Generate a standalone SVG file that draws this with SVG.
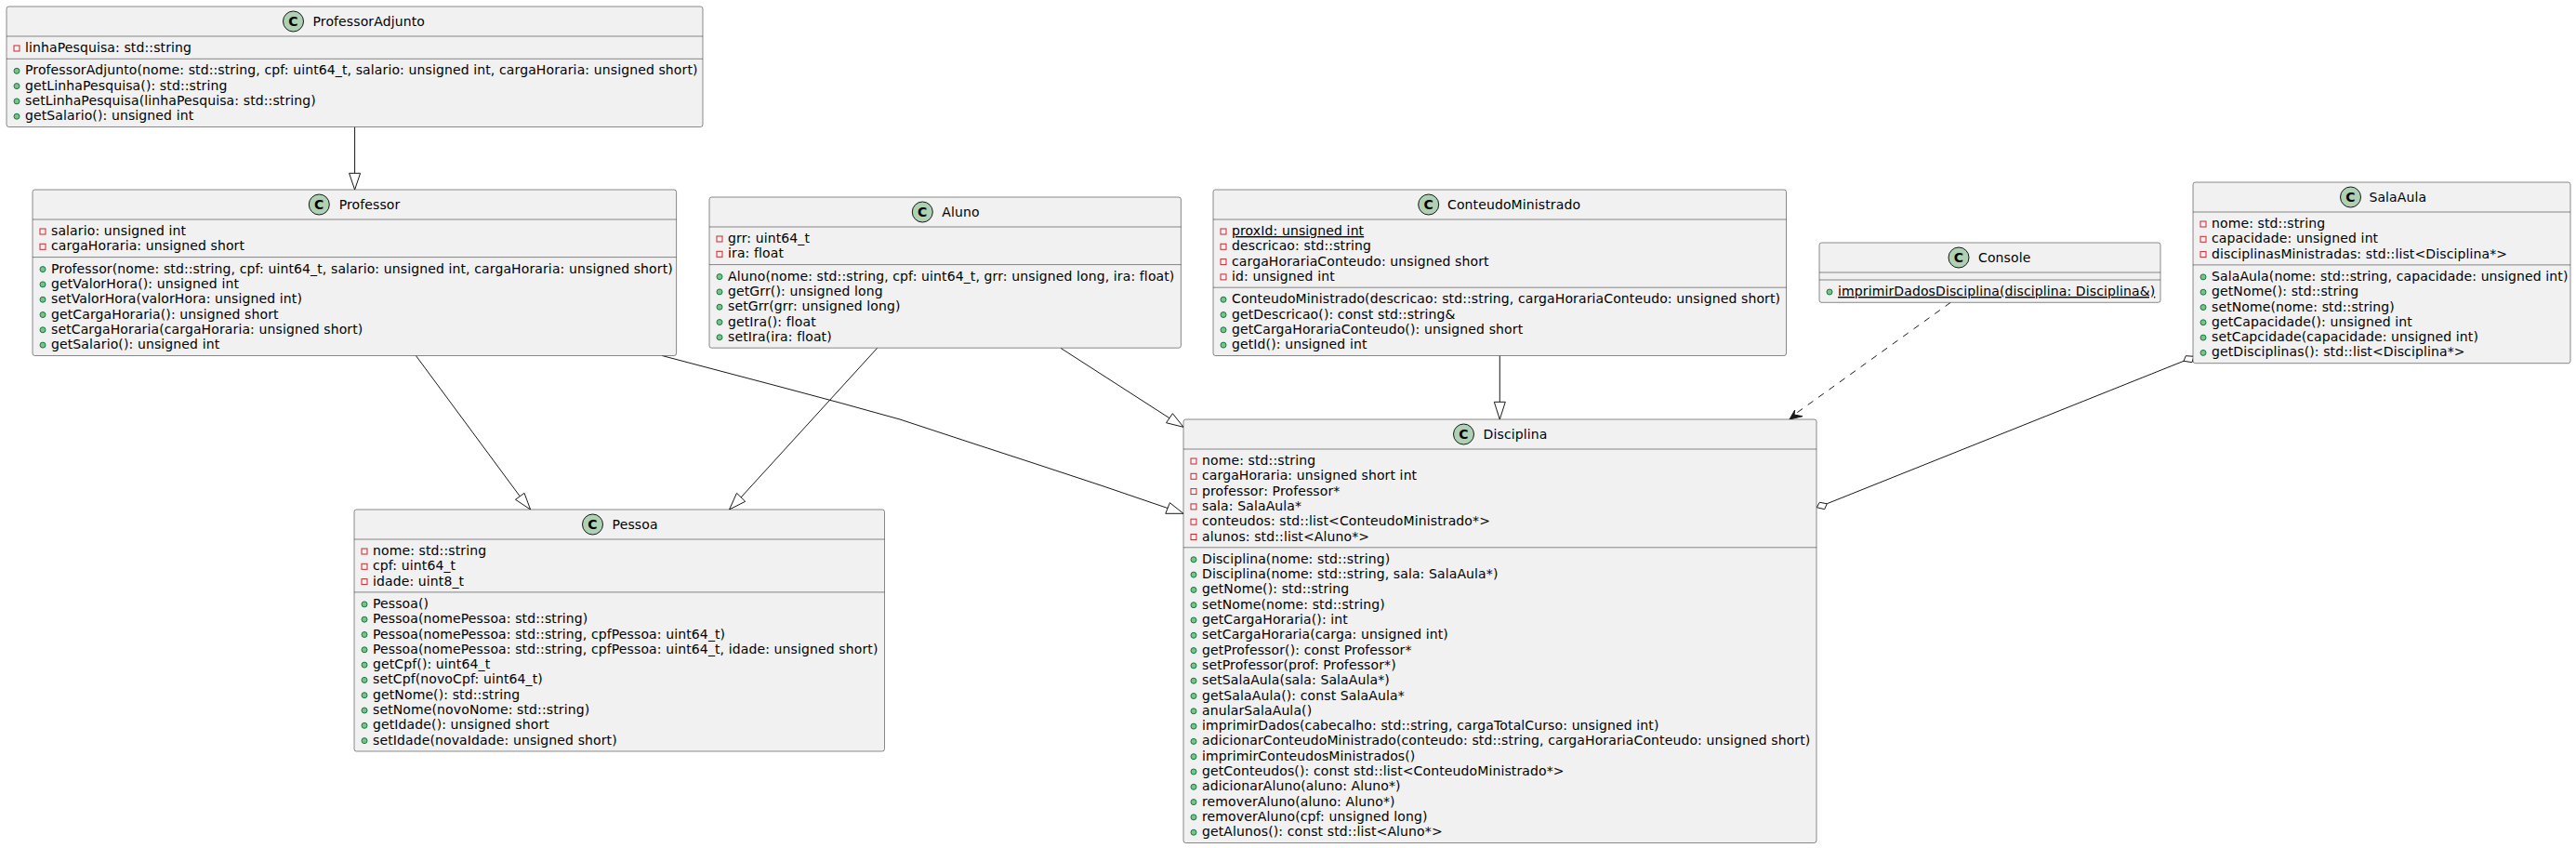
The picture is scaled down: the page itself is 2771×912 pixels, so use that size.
<svg xmlns="http://www.w3.org/2000/svg" width="2771" height="912" viewBox="0 0 2771 912">
<style>
text{font-family:"DejaVu Sans",sans-serif;font-size:14px;fill:#000;letter-spacing:.12px}
.box{fill:#F1F1F1;stroke:#181818;stroke-width:.5}
.sep{stroke:#181818;stroke-width:.5}
.spot{fill:#ADD1B2;stroke:#181818;stroke-width:1}
.c{font-weight:bold;text-anchor:middle}
.pv{fill:none;stroke:#C82930;stroke-width:1}
.pb{fill:#84BE84;stroke:#038048;stroke-width:1}
.u{text-decoration:underline;text-decoration-skip-ink:none}
.ln{fill:none;stroke:#181818;stroke-width:1}
.dash{stroke-dasharray:7,7}
.head{fill:#181818;stroke:#181818;stroke-width:1}
</style>
<g id="connectors">
<path class="ln" d="M381.6,136.5V186.3"/><polygon class="ln" points="381.6,204 375.6,186.3 387.6,186.3"/>
<path class="ln" d="M447.4,382.5L559.3,533.8"/><polygon class="ln" points="570.6,548 554.5,537.3 564,530.3"/>
<path class="ln" d="M943.7,374.3L797,535"/><polygon class="ln" points="784.5,548 801.7,539.3 792.5,530.3"/>
<path class="ln" d="M712.2,382.5C797,405 883,427 968,451C1064,483 1160,513 1256,546.5"/><polygon class="ln" points="1273,552.3 1253.8,552.3 1258.4,540.7"/>
<path class="ln" d="M1140.9,374.3L1258,449.7"/><polygon class="ln" points="1273,459.3 1254.5,454.7 1261.4,444.7"/>
<path class="ln" d="M1613.3,382.5V432.3"/><polygon class="ln" points="1613.3,451 1607.3,432.3 1619.3,432.3"/>
<path class="ln dash" d="M2098.3,325.3L1930,446"/><polygon class="head" points="1925,451 1930.7,441 1930,446 1939,447.7"/>
<path class="ln" d="M1965.3,541.7L2349,388.3"/>
<polygon class="ln" points="1954.3,545.7 1957.3,540.3 1965.3,541.7 1962.7,547.7"/>
<polygon class="ln" points="2360,383.3 2351.3,382.7 2349,388.3 2358,389.7"/>
</g>
<g id="ProfessorAdjunto" transform="translate(7,7)">
<rect class="box" width="749" height="129.5" rx="2.5"/><ellipse class="spot" cx="308.5" cy="16" rx="11" ry="11"/><text class="c" x="308.5" y="21">C</text><text x="329.5" y="21">ProfessorAdjunto</text>
<path class="sep" d="M0,32H749M0,56.3H749"/>
<rect class="pv" x="8" y="42" width="6" height="6"/><text x="20" y="49">linhaPesquisa: std::string</text>
<circle class="pb" cx="11" cy="69.3" r="3"/><text x="20" y="73.3">ProfessorAdjunto(nome: std::string, cpf: uint64_t, salario: unsigned int, cargaHoraria: unsigned short)</text>
<circle class="pb" cx="11" cy="85.6" r="3"/><text x="20" y="89.6">getLinhaPesquisa(): std::string</text>
<circle class="pb" cx="11" cy="101.9" r="3"/><text x="20" y="105.9">setLinhaPesquisa(linhaPesquisa: std::string)</text>
<circle class="pb" cx="11" cy="118.2" r="3"/><text x="20" y="122.2">getSalario(): unsigned int</text>
</g>
<g id="Professor" transform="translate(35,204)">
<rect class="box" width="692.6" height="178.5" rx="2.5"/><ellipse class="spot" cx="308.3" cy="16" rx="11" ry="11"/><text class="c" x="308.3" y="21">C</text><text x="329.7" y="21">Professor</text>
<path class="sep" d="M0,32H692.6M0,72.6H692.6"/>
<rect class="pv" x="8" y="42" width="6" height="6"/><text x="20" y="49">salario: unsigned int</text>
<rect class="pv" x="8" y="58.3" width="6" height="6"/><text x="20" y="65.3">cargaHoraria: unsigned short</text>
<circle class="pb" cx="11" cy="85.6" r="3"/><text x="20" y="89.6">Professor(nome: std::string, cpf: uint64_t, salario: unsigned int, cargaHoraria: unsigned short)</text>
<circle class="pb" cx="11" cy="101.9" r="3"/><text x="20" y="105.9">getValorHora(): unsigned int</text>
<circle class="pb" cx="11" cy="118.2" r="3"/><text x="20" y="122.2">setValorHora(valorHora: unsigned int)</text>
<circle class="pb" cx="11" cy="134.5" r="3"/><text x="20" y="138.5">getCargaHoraria(): unsigned short</text>
<circle class="pb" cx="11" cy="150.8" r="3"/><text x="20" y="154.8">setCargaHoraria(cargaHoraria: unsigned short)</text>
<circle class="pb" cx="11" cy="167.1" r="3"/><text x="20" y="171.1">getSalario(): unsigned int</text>
</g>
<g id="Aluno" transform="translate(763,212)">
<rect class="box" width="507.4" height="162.2" rx="2.5"/><ellipse class="spot" cx="229.3" cy="16" rx="11" ry="11"/><text class="c" x="229.3" y="21">C</text><text x="250.2" y="21">Aluno</text>
<path class="sep" d="M0,32H507.4M0,72.6H507.4"/>
<rect class="pv" x="8" y="42" width="6" height="6"/><text x="20" y="49">grr: uint64_t</text>
<rect class="pv" x="8" y="58.3" width="6" height="6"/><text x="20" y="65.3">ira: float</text>
<circle class="pb" cx="11" cy="85.6" r="3"/><text x="20" y="89.6">Aluno(nome: std::string, cpf: uint64_t, grr: unsigned long, ira: float)</text>
<circle class="pb" cx="11" cy="101.9" r="3"/><text x="20" y="105.9">getGrr(): unsigned long</text>
<circle class="pb" cx="11" cy="118.2" r="3"/><text x="20" y="122.2">setGrr(grr: unsigned long)</text>
<circle class="pb" cx="11" cy="134.5" r="3"/><text x="20" y="138.5">getIra(): float</text>
<circle class="pb" cx="11" cy="150.8" r="3"/><text x="20" y="154.8">setIra(ira: float)</text>
</g>
<g id="ConteudoMinistrado" transform="translate(1305,204)">
<rect class="box" width="616.5" height="178.5" rx="2.5"/><ellipse class="spot" cx="231.7" cy="16" rx="11" ry="11"/><text class="c" x="231.7" y="21">C</text><text x="252" y="21">ConteudoMinistrado</text>
<path class="sep" d="M0,32H616.5M0,105.2H616.5"/>
<rect class="pv" x="8" y="42" width="6" height="6"/><text class="u" x="20" y="49">proxId: unsigned int</text>
<rect class="pv" x="8" y="58.3" width="6" height="6"/><text x="20" y="65.3">descricao: std::string</text>
<rect class="pv" x="8" y="74.6" width="6" height="6"/><text x="20" y="81.6">cargaHorariaConteudo: unsigned short</text>
<rect class="pv" x="8" y="90.9" width="6" height="6"/><text x="20" y="97.9">id: unsigned int</text>
<circle class="pb" cx="11" cy="118.2" r="3"/><text x="20" y="122.2">ConteudoMinistrado(descricao: std::string, cargaHorariaConteudo: unsigned short)</text>
<circle class="pb" cx="11" cy="134.5" r="3"/><text x="20" y="138.5">getDescricao(): const std::string&amp;</text>
<circle class="pb" cx="11" cy="150.8" r="3"/><text x="20" y="154.8">getCargaHorariaConteudo(): unsigned short</text>
<circle class="pb" cx="11" cy="167.1" r="3"/><text x="20" y="171.1">getId(): unsigned int</text>
</g>
<g id="Console" transform="translate(1957,261)">
<rect class="box" width="367" height="64.3" rx="2.5"/><ellipse class="spot" cx="150" cy="16" rx="11" ry="11"/><text class="c" x="150" y="21">C</text><text x="171" y="21">Console</text>
<path class="sep" d="M0,32H367M0,40H367"/>
<circle class="pb" cx="11" cy="53" r="3"/><text class="u" x="20" y="57">imprimirDadosDisciplina(disciplina: Disciplina&amp;)</text>
</g>
<g id="SalaAula" transform="translate(2359,196)">
<rect class="box" width="406" height="194.7" rx="2.5"/><ellipse class="spot" cx="169.5" cy="16" rx="11" ry="11"/><text class="c" x="169.5" y="21">C</text><text x="189.4" y="21">SalaAula</text>
<path class="sep" d="M0,32H406M0,88.9H406"/>
<rect class="pv" x="8" y="42" width="6" height="6"/><text x="20" y="49">nome: std::string</text>
<rect class="pv" x="8" y="58.3" width="6" height="6"/><text x="20" y="65.3">capacidade: unsigned int</text>
<rect class="pv" x="8" y="74.6" width="6" height="6"/><text x="20" y="81.6">disciplinasMinistradas: std::list&lt;Disciplina*&gt;</text>
<circle class="pb" cx="11" cy="101.9" r="3"/><text x="20" y="105.9">SalaAula(nome: std::string, capacidade: unsigned int)</text>
<circle class="pb" cx="11" cy="118.2" r="3"/><text x="20" y="122.2">getNome(): std::string</text>
<circle class="pb" cx="11" cy="134.5" r="3"/><text x="20" y="138.5">setNome(nome: std::string)</text>
<circle class="pb" cx="11" cy="150.8" r="3"/><text x="20" y="154.8">getCapacidade(): unsigned int</text>
<circle class="pb" cx="11" cy="167.1" r="3"/><text x="20" y="171.1">setCapcidade(capacidade: unsigned int)</text>
<circle class="pb" cx="11" cy="183.4" r="3"/><text x="20" y="187.4">getDisciplinas(): std::list&lt;Disciplina*&gt;</text>
</g>
<g id="Pessoa" transform="translate(381,548)">
<rect class="box" width="570.5" height="260" rx="2.5"/><ellipse class="spot" cx="256.5" cy="16" rx="11" ry="11"/><text class="c" x="256.5" y="21">C</text><text x="277.6" y="21">Pessoa</text>
<path class="sep" d="M0,32H570.5M0,88.9H570.5"/>
<rect class="pv" x="8" y="42" width="6" height="6"/><text x="20" y="49">nome: std::string</text>
<rect class="pv" x="8" y="58.3" width="6" height="6"/><text x="20" y="65.3">cpf: uint64_t</text>
<rect class="pv" x="8" y="74.6" width="6" height="6"/><text x="20" y="81.6">idade: uint8_t</text>
<circle class="pb" cx="11" cy="101.9" r="3"/><text x="20" y="105.9">Pessoa()</text>
<circle class="pb" cx="11" cy="118.2" r="3"/><text x="20" y="122.2">Pessoa(nomePessoa: std::string)</text>
<circle class="pb" cx="11" cy="134.5" r="3"/><text x="20" y="138.5">Pessoa(nomePessoa: std::string, cpfPessoa: uint64_t)</text>
<circle class="pb" cx="11" cy="150.8" r="3"/><text x="20" y="154.8">Pessoa(nomePessoa: std::string, cpfPessoa: uint64_t, idade: unsigned short)</text>
<circle class="pb" cx="11" cy="167.1" r="3"/><text x="20" y="171.1">getCpf(): uint64_t</text>
<circle class="pb" cx="11" cy="183.4" r="3"/><text x="20" y="187.4">setCpf(novoCpf: uint64_t)</text>
<circle class="pb" cx="11" cy="199.7" r="3"/><text x="20" y="203.7">getNome(): std::string</text>
<circle class="pb" cx="11" cy="216" r="3"/><text x="20" y="220">setNome(novoNome: std::string)</text>
<circle class="pb" cx="11" cy="232.3" r="3"/><text x="20" y="236.3">getIdade(): unsigned short</text>
<circle class="pb" cx="11" cy="248.6" r="3"/><text x="20" y="252.6">setIdade(novaIdade: unsigned short)</text>
</g>
<g id="Disciplina" transform="translate(1273,451)">
<rect class="box" width="681" height="455.5" rx="2.5"/><ellipse class="spot" cx="301.5" cy="16" rx="11" ry="11"/><text class="c" x="301.5" y="21">C</text><text x="322.6" y="21">Disciplina</text>
<path class="sep" d="M0,32H681M0,137.8H681"/>
<rect class="pv" x="8" y="42" width="6" height="6"/><text x="20" y="49">nome: std::string</text>
<rect class="pv" x="8" y="58.3" width="6" height="6"/><text x="20" y="65.3">cargaHoraria: unsigned short int</text>
<rect class="pv" x="8" y="74.6" width="6" height="6"/><text x="20" y="81.6">professor: Professor*</text>
<rect class="pv" x="8" y="90.9" width="6" height="6"/><text x="20" y="97.9">sala: SalaAula*</text>
<rect class="pv" x="8" y="107.2" width="6" height="6"/><text x="20" y="114.2">conteudos: std::list&lt;ConteudoMinistrado*&gt;</text>
<rect class="pv" x="8" y="123.5" width="6" height="6"/><text x="20" y="130.5">alunos: std::list&lt;Aluno*&gt;</text>
<circle class="pb" cx="11" cy="150.8" r="3"/><text x="20" y="154.8">Disciplina(nome: std::string)</text>
<circle class="pb" cx="11" cy="167.1" r="3"/><text x="20" y="171.1">Disciplina(nome: std::string, sala: SalaAula*)</text>
<circle class="pb" cx="11" cy="183.4" r="3"/><text x="20" y="187.4">getNome(): std::string</text>
<circle class="pb" cx="11" cy="199.7" r="3"/><text x="20" y="203.7">setNome(nome: std::string)</text>
<circle class="pb" cx="11" cy="216" r="3"/><text x="20" y="220">getCargaHoraria(): int</text>
<circle class="pb" cx="11" cy="232.3" r="3"/><text x="20" y="236.3">setCargaHoraria(carga: unsigned int)</text>
<circle class="pb" cx="11" cy="248.6" r="3"/><text x="20" y="252.6">getProfessor(): const Professor*</text>
<circle class="pb" cx="11" cy="264.9" r="3"/><text x="20" y="268.9">setProfessor(prof: Professor*)</text>
<circle class="pb" cx="11" cy="281.2" r="3"/><text x="20" y="285.2">setSalaAula(sala: SalaAula*)</text>
<circle class="pb" cx="11" cy="297.5" r="3"/><text x="20" y="301.5">getSalaAula(): const SalaAula*</text>
<circle class="pb" cx="11" cy="313.8" r="3"/><text x="20" y="317.8">anularSalaAula()</text>
<circle class="pb" cx="11" cy="330.1" r="3"/><text x="20" y="334.1">imprimirDados(cabecalho: std::string, cargaTotalCurso: unsigned int)</text>
<circle class="pb" cx="11" cy="346.4" r="3"/><text x="20" y="350.4">adicionarConteudoMinistrado(conteudo: std::string, cargaHorariaConteudo: unsigned short)</text>
<circle class="pb" cx="11" cy="362.7" r="3"/><text x="20" y="366.7">imprimirConteudosMinistrados()</text>
<circle class="pb" cx="11" cy="379" r="3"/><text x="20" y="383">getConteudos(): const std::list&lt;ConteudoMinistrado*&gt;</text>
<circle class="pb" cx="11" cy="395.3" r="3"/><text x="20" y="399.3">adicionarAluno(aluno: Aluno*)</text>
<circle class="pb" cx="11" cy="411.6" r="3"/><text x="20" y="415.6">removerAluno(aluno: Aluno*)</text>
<circle class="pb" cx="11" cy="427.9" r="3"/><text x="20" y="431.9">removerAluno(cpf: unsigned long)</text>
<circle class="pb" cx="11" cy="444.2" r="3"/><text x="20" y="448.2">getAlunos(): const std::list&lt;Aluno*&gt;</text>
</g>
</svg>
